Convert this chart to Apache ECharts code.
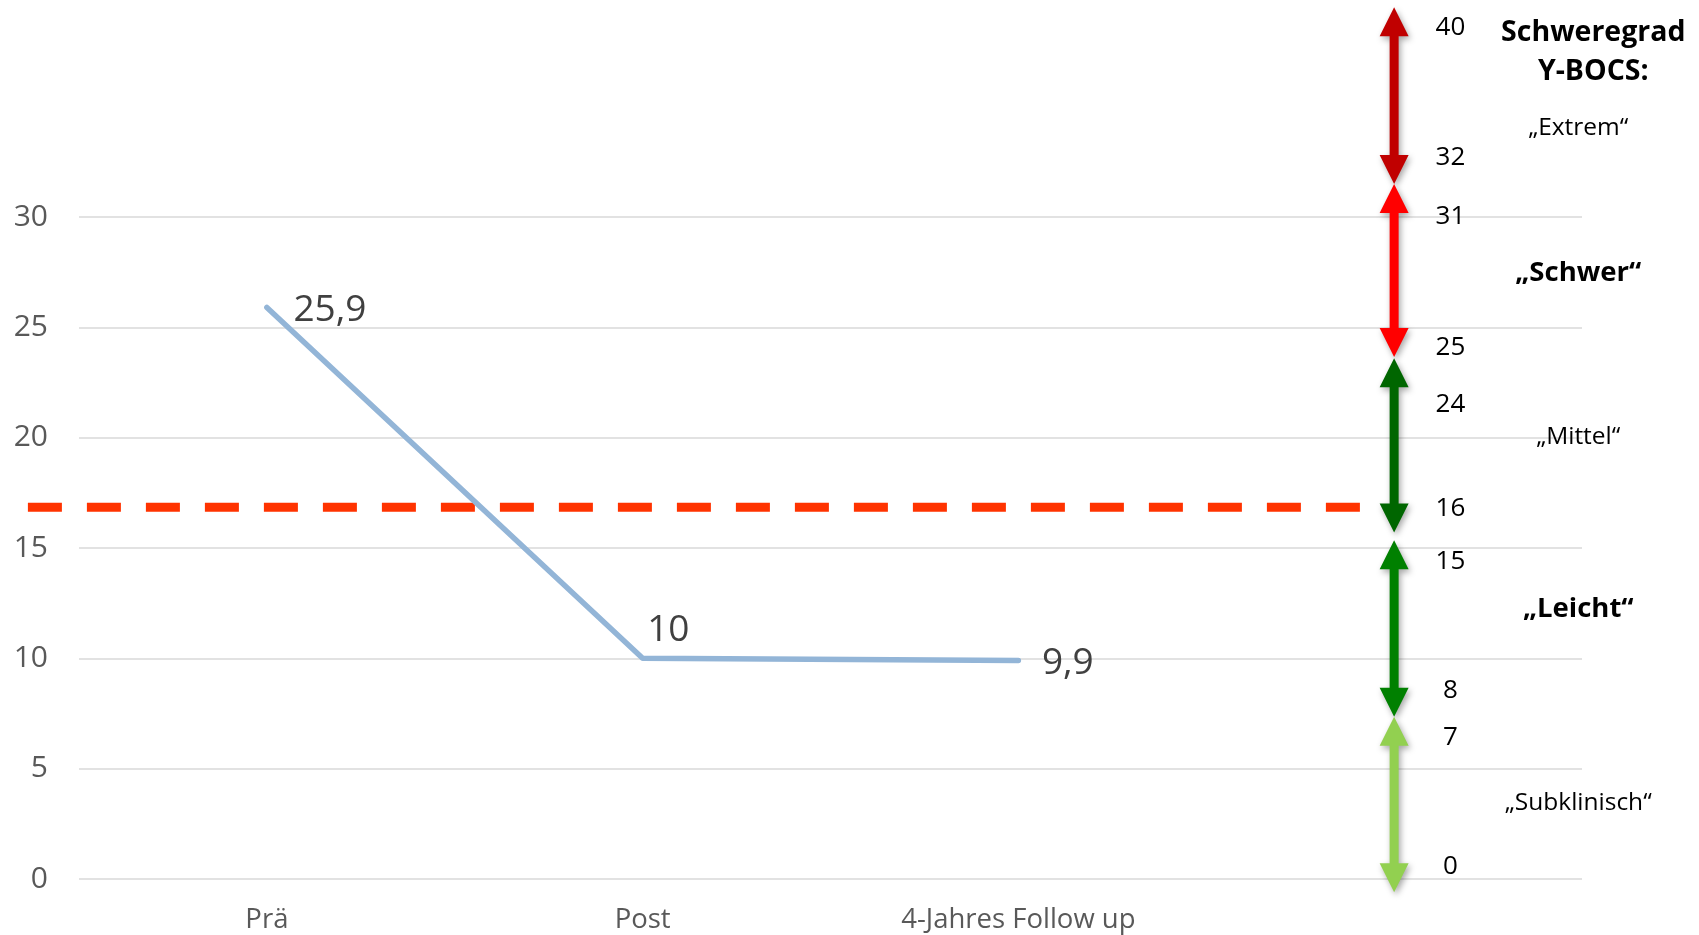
<!DOCTYPE html>
<html>
<head>
<meta charset="utf-8">
<script src="https://cdn.jsdelivr.net/npm/echarts@6/dist/echarts.min.js"></script>
<style>
  html, body { margin: 0; padding: 0; background: #fff; }
  #chart { width: 1699px; height: 935px; }
</style>
</head>
<body>
<div id="chart"></div>
<script>
// Measurement points (Y-BOCS mean score)
const categories = ['Prä', 'Post', '4-Jahres Follow up', ''];
const scores = [25.9, 10, 9.9];
const yTicks = [0, 5, 10, 15, 20, 25, 30];

// Cut-off line level and its horizontal extent (in category widths)
const cutoffLevel = 16.85;
const cutoffExtent = [-0.136, 3.436];

// Severity bands drawn as double arrows: [top, bottom]
const bandTops    = [39.5, 31.5, 23.6, 15.35, 7.35];
const bandBottoms = [31.5, 23.65, 15.7, 7.35, -0.6];
const bandColors  = ['#C00000', '#FF0000', '#006600', '#008000', '#92D050'];

// Score limits written beside the arrows: [text, level]
const limitLabels = [
  ['40', 38.6], ['32', 32.7], ['31', 30.0], ['25', 24.1], ['24', 21.5],
  ['16', 16.8], ['15', 14.4], ['8', 8.56], ['7', 6.43], ['0', 0.54]
];

// Severity names: [text, level, bold]
const severityNames = [
  ['„Extrem“', 34.03, false],
  ['„Schwer“', 27.46, true],
  ['„Mittel“', 20.03, false],
  ['„Leicht“', 12.23, true],
  ['„Subklinisch“', 3.44, false]
];
const headingLines = [['Schweregrad', 38.33], ['Y-BOCS:', 36.56]];

const FONT = 'Open Sans';
const chart = echarts.init(document.getElementById('chart'));

// double-headed vertical arrow between two score levels
function arrowItem(params, api) {
  const x = api.value(0);
  const top = api.coord([x, api.value(1)]);
  const bot = api.coord([x, api.value(2)]);
  const cx = top[0];
  const head = 29, hw = 14.5, sw = 4.5;
  const pts = [
    [cx, top[1]],
    [cx + hw, top[1] + head], [cx + sw, top[1] + head],
    [cx + sw, bot[1] - head], [cx + hw, bot[1] - head],
    [cx, bot[1]],
    [cx - hw, bot[1] - head], [cx - sw, bot[1] - head],
    [cx - sw, top[1] + head], [cx - hw, top[1] + head]
  ];
  return {
    type: 'polygon',
    shape: { points: pts },
    style: {
      fill: bandColors[api.value(3)],
      shadowBlur: 6,
      shadowColor: 'rgba(0,0,0,0.35)',
      shadowOffsetX: 2,
      shadowOffsetY: 3
    }
  };
}

// dashed cut-off line, allowed to run past the plot's left edge
function cutoffItem(params, api) {
  const a = api.coord([api.value(0), api.value(2)]);
  const b = api.coord([api.value(1), api.value(2)]);
  return {
    type: 'line',
    shape: { x1: a[0], y1: a[1], x2: b[0], y2: b[1] },
    style: { stroke: '#FF3300', lineWidth: 9, lineDash: [34, 25], lineCap: 'butt' }
  };
}

function textAt(xVal, getText, getSize, getWeight) {
  return function (params, api) {
    const p = api.coord([xVal, api.value(1)]);
    const i = params.dataIndex;
    return {
      type: 'text',
      x: p[0], y: p[1],
      style: {
        text: getText(i),
        fontFamily: FONT,
        fontSize: getSize(i),
        fontWeight: getWeight(i),
        fill: '#000',
        align: 'center',
        verticalAlign: 'middle'
      }
    };
  };
}

const option = {
  animation: false,
  grid: { left: 79, right: 117, top: 217, bottom: 56 },
  xAxis: [
    {
      type: 'category',
      data: categories,
      boundaryGap: true,
      axisLine: { show: false },
      axisTick: { show: false },
      axisLabel: { color: '#595959', fontFamily: FONT, fontSize: 27.5, margin: 27 }
    },
    { type: 'value', min: 0, max: 4, show: false }
  ],
  yAxis: {
    type: 'value',
    min: yTicks[0],
    max: yTicks[yTicks.length - 1],
    interval: 5,
    axisLine: { show: false },
    axisTick: { show: false },
    axisLabel: { color: '#595959', fontFamily: FONT, fontSize: 30, margin: 31 },
    splitLine: { lineStyle: { color: '#D9D9D9', width: 1.5 } }
  },
  series: [
    {
      name: 'cutoff',
      type: 'custom',
      xAxisIndex: 1,
      data: [[cutoffExtent[0], cutoffExtent[1], cutoffLevel]],
      renderItem: cutoffItem,
      z: 3
    },
    {
      name: 'Y-BOCS',
      type: 'line',
      xAxisIndex: 0,
      data: scores.map((v, i) => {
        const lbl = i === 1
          ? { position: 'right', distance: 4, offset: [0, -28] }
          : { position: 'right', distance: i === 0 ? 26 : 23, offset: [0, 3] };
        return { value: v, label: lbl };
      }),
      symbol: 'circle',
      symbolSize: 1,
      itemStyle: { color: '#93B5D7' },
      lineStyle: { color: '#93B5D7', width: 5.5, cap: 'round', join: 'round' },
      label: {
        show: true,
        color: '#404040',
        fontFamily: FONT,
        fontSize: 37,
        formatter: p => String(p.value).replace('.', ',')
      },
      z: 4
    },
    {
      name: 'arrows',
      type: 'custom',
      xAxisIndex: 1,
      data: bandTops.map((t, i) => [3.5, t, bandBottoms[i], i]),
      renderItem: arrowItem,
      z: 5
    },
    {
      name: 'limits',
      type: 'custom',
      xAxisIndex: 1,
      data: limitLabels.map(l => [3.65, l[1]]),
      renderItem: textAt(3.65, i => limitLabels[i][0], () => 26, () => 'normal'),
      z: 6
    },
    {
      name: 'names',
      type: 'custom',
      xAxisIndex: 1,
      data: severityNames.map(n => [3.99, n[1]]),
      renderItem: textAt(3.99,
        i => severityNames[i][0],
        i => severityNames[i][2] ? 27.5 : 24.5,
        i => severityNames[i][2] ? 'bold' : 'normal'),
      z: 6
    },
    {
      name: 'heading',
      type: 'custom',
      xAxisIndex: 1,
      data: headingLines.map(h => [4.03, h[1]]),
      renderItem: textAt(4.03, i => headingLines[i][0], () => 28.5, () => 'bold'),
      z: 6
    }
  ]
};

chart.setOption(option);
</script>
</body>
</html>
